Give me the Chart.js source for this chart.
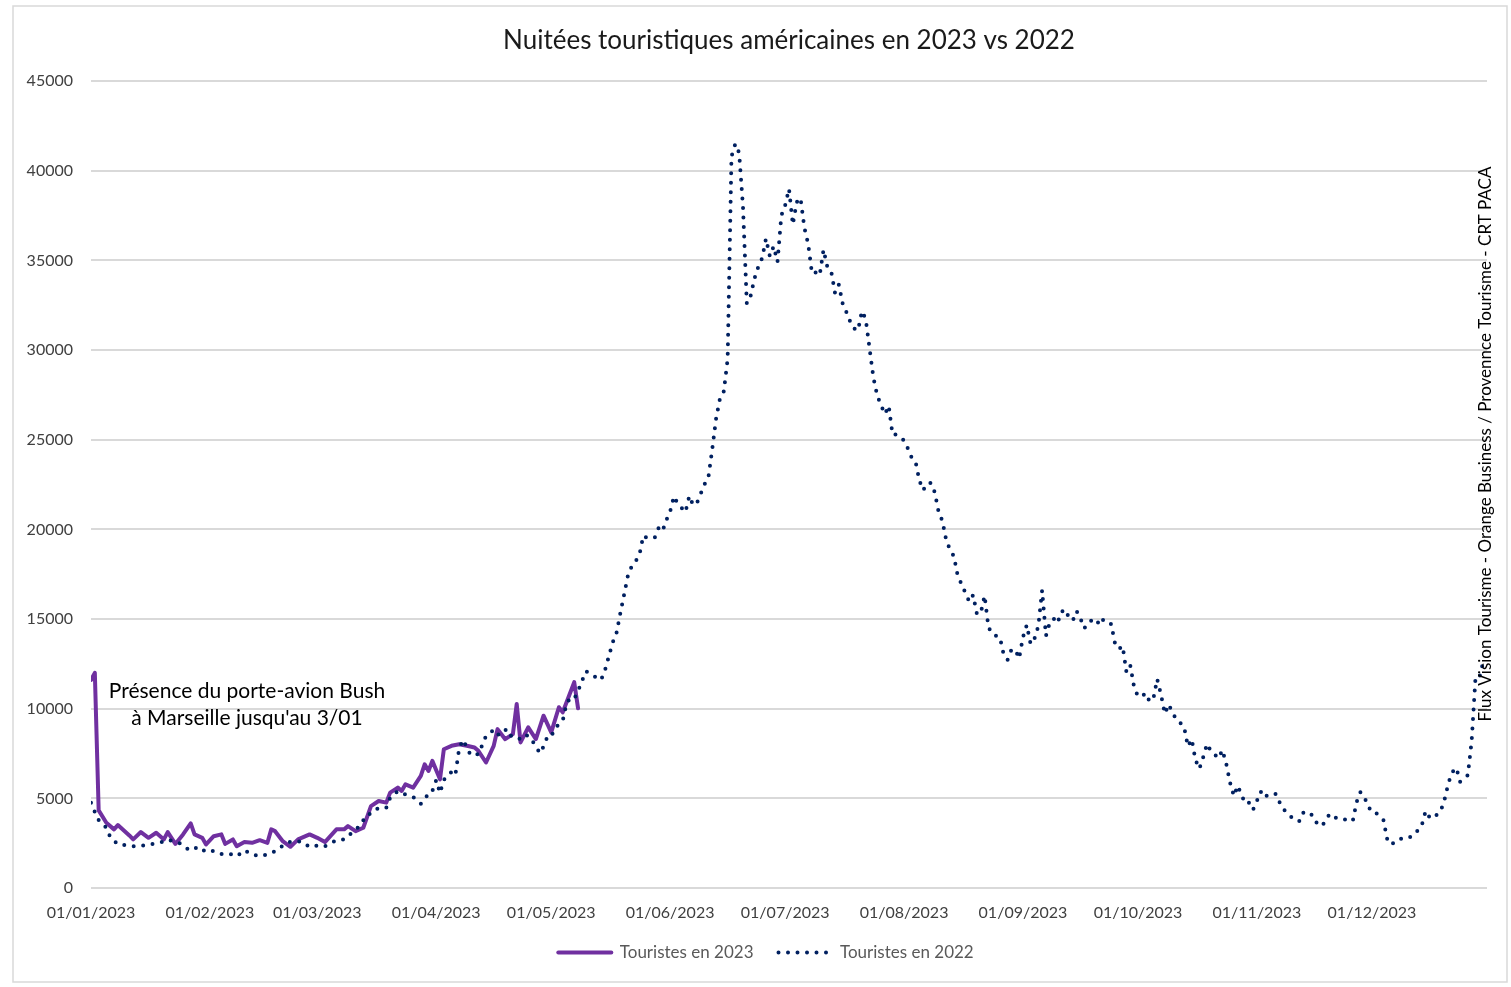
<!DOCTYPE html>
<html lang="fr">
<head>
<meta charset="utf-8">
<title>Nuitées touristiques américaines en 2023 vs 2022</title>
<script src="https://cdn.jsdelivr.net/npm/chart.js@4.4.1/dist/chart.umd.min.js"></script>
<style>
  html, body { margin: 0; padding: 0; background: #fff; }
  canvas { display: block; }
</style>
</head>
<body>
<canvas id="graphique" width="1511" height="987"></canvas>
<script>
// jours comptés depuis le 01/01 (0 = 1er janvier)
const jours2022 = [0,1,2,4,5,7,9,11,14,16,18,20,23,25,26,28,30,32,34,36,38,40,42,44,47,49,51,53,55,57,60,61,64,66,68,70,72,73,75,77,78,80,82,84,86,87,88,89,90,91,92,94,95,96,97,99,101,102,103,105,106,108,109,110,112,113,114,116,117,118,119,120,121,123,124,125,126,127,128,129,130,132,133,134,135,136,137,138,139,140,141,142,143,144,145,147,148,149,150,151,152,153,155,156,157,158,159,160,161,162,163,164,165,166,167,168,169,170,171,172,173,174,175,176,177,178,179,180,181,182,183,184,185,186,187,188,189,190,191,192,193,194,195,196,197,198,199,200,201,202,203,204,205,206,207,208,209,210,212,213,214,215,216,217,218,219,220,221,222,223,224,225,226,227,228,229,230,231,232,233,234,235,237,238,239,240,241,242,243,244,245,246,247,248,249,250,251,252,253,254,255,256,257,258,259,260,262,263,264,266,267,268,269,270,271,272,273,274,275,276,277,278,279,280,281,282,283,285,286,287,288,289,290,291,292,294,295,296,297,298,299,300,301,302,303,304,305,306,307,309,310,311,313,315,316,318,319,321,322,323,325,327,329,330,331,332,333,334,335,337,338,339,341,343,345,347,348,349,350,352,353,354,355,356,357,359,360,361,362,363];
const touristes2022 = [4760,4240,3790,3360,2850,2430,2390,2330,2370,2460,2520,2700,2520,2200,2090,2300,2000,2070,1890,1920,1770,2110,1870,1770,1920,2200,2520,2630,2580,2280,2400,2330,2670,2710,3080,3450,4110,4140,4480,4480,5040,5410,5220,5080,4700,4890,5320,5410,6010,5300,6030,6480,6290,7800,8270,7410,7460,7970,8490,8810,8530,8860,8450,8530,8300,8530,8490,7930,7520,7890,8450,8450,8920,9330,10300,10580,10550,11000,11530,12090,11980,11700,11600,12130,12900,13680,14200,15300,16360,17430,17950,18230,18570,19650,19520,19550,20080,19890,20510,21000,21850,21440,20970,21870,21350,21480,22000,22520,22930,24500,26200,27300,27700,29500,40800,41500,41000,38000,32600,33040,34000,34660,35140,36220,35240,35790,34920,37500,38080,39000,37000,38250,38490,36840,35920,34270,34340,34170,35600,34640,34400,33190,33650,32590,32110,31570,31200,31100,32170,31740,30100,28480,27470,26920,26430,26900,25280,25290,24960,24510,23990,23780,22720,22180,22560,22590,22070,20990,20470,19390,18870,18500,17400,16950,16450,15970,16340,15280,15330,16300,14550,14160,13980,13000,12730,13290,13290,12800,13980,14670,13600,13900,14600,16600,14060,14810,15020,14760,15400,15540,15070,14910,15440,15020,14480,14830,15020,14650,14980,14720,13650,13330,13500,12020,12400,11180,10690,10690,10870,10410,10540,11650,10780,9720,10240,9780,9400,9010,7900,8300,7130,6650,7300,8040,7650,7240,7700,6940,5880,5130,5710,5190,4700,4760,4360,4850,5370,5040,5240,5240,4740,4380,3950,3710,4200,4200,3730,3450,3820,4140,3860,3820,3730,4790,5350,5090,4570,4230,4200,3790,2700,2420,2740,2740,2950,3500,4290,3950,3880,4330,5000,5900,6470,6700,5930,6290,8200,11720,11720,12600];

const jours2023 = [0,1,2,4,6,7,10,11,13,15,17,19,20,22,24,26,27,29,30,32,34,35,37,38,40,42,44,46,47,48,50,52,54,57,59,61,64,66,67,69,71,73,75,77,78,80,81,82,84,86,87,88,89,91,92,94,96,98,100,101,103,105,106,108,110,111,112,114,116,118,120,122,123,126,127];
const touristes2023 = [11600,12000,4330,3640,3270,3510,2930,2710,3120,2800,3080,2710,3120,2460,2990,3600,2990,2800,2430,2890,2990,2460,2710,2330,2560,2520,2670,2520,3270,3170,2610,2300,2710,2990,2800,2560,3270,3270,3450,3170,3360,4570,4850,4760,5320,5600,5410,5780,5600,6250,6900,6530,7090,6060,7740,7930,8020,7930,7840,7650,7000,7930,8860,8300,8580,10260,8120,8960,8300,9610,8680,10080,9800,11480,10020];

const debutsDeMois = [0,31,59,90,120,151,181,212,243,273,304,334];
const etiquettesMois = ['01/01/2023','01/02/2023','01/03/2023','01/04/2023','01/05/2023','01/06/2023','01/07/2023','01/08/2023','01/09/2023','01/10/2023','01/11/2023','01/12/2023'];

const police = 'Lato';

const cadreEtNotes = {
    id: 'cadreEtNotes',
    afterLayout(chart) {
        // la légende d'origine est un peu décalée vers la droite
        chart.legend.left += 16;
        chart.legend.right += 16;
    },
    beforeDraw(chart) {
        const c = chart.ctx;
        c.save();
        c.fillStyle = '#fff';
        c.fillRect(0, 0, chart.width, chart.height);
        c.strokeStyle = '#d9d9d9';
        c.lineWidth = 1.5;
        c.strokeRect(13, 6, 1494, 976);
        c.restore();
    },
    afterDraw(chart) {
        const c = chart.ctx;
        c.save();
        c.fillStyle = '#000';
        c.font = '21px ' + police;
        c.textAlign = 'center';
        c.textBaseline = 'middle';
        c.fillText('Présence du porte-avion Bush', 247, 691);
        c.fillText("à Marseille jusqu'au 3/01", 247, 718);

        c.translate(1486, 444);
        c.rotate(-Math.PI / 2);
        c.font = '17px ' + police;
        c.fillText('Flux Vision Tourisme - Orange Business / Provennce Tourisme - CRT PACA', 0, 0);
        c.restore();
    }
};

// légende : reprendre le pointillé et l'épaisseur de chaque série
function etiquettesLegende(chart) {
    const items = Chart.defaults.plugins.legend.labels.generateLabels(chart);
    items.forEach(item => {
        const ds = chart.data.datasets[item.datasetIndex];
        item.lineDash = ds.borderDash || [];
        item.lineCap = ds.borderCapStyle || 'butt';
        item.lineWidth = ds.borderWidth;
        item.strokeStyle = ds.borderColor;
    });
    return items;
}

const ctx = document.getElementById('graphique').getContext('2d');
const graphique = new Chart(ctx, {
    type: 'line',
    data: {
        datasets: [
            {
                label: 'Touristes en 2023',
                data: jours2023.map((j, i) => ({ x: j, y: touristes2023[i] })),
                borderColor: '#7030a0',
                backgroundColor: '#7030a0',
                borderWidth: 4,
                borderCapStyle: 'round',
                borderJoinStyle: 'round',
                pointRadius: 0,
                tension: 0,
                order: 1
            },
            {
                label: 'Touristes en 2022',
                data: jours2022.map((j, i) => ({ x: j, y: touristes2022[i] })),
                borderColor: '#002060',
                backgroundColor: '#002060',
                borderWidth: 4,
                borderDash: [0, 9.5],
                borderCapStyle: 'round',
                borderJoinStyle: 'round',
                pointRadius: 0,
                tension: 0,
                order: 0
            }
        ]
    },
    options: {
        responsive: false,
        animation: false,
        layout: { padding: { left: 13, right: 24, top: 6, bottom: 16 } },
        plugins: {
            title: {
                display: true,
                fullSize: false,
                text: 'Nuitées touristiques américaines en 2023 vs 2022',
                color: '#1a1a1a',
                font: { family: police, size: 26, weight: 'normal' },
                padding: { top: 19, bottom: 25 }
            },
            legend: {
                position: 'bottom',
                labels: {
                    usePointStyle: true,
                    pointStyle: 'line',
                    pointStyleWidth: 53,
                    padding: 25,
                    color: '#595959',
                    font: { family: police, size: 17 },
                    generateLabels: etiquettesLegende,
                    sort: (a, b) => a.datasetIndex - b.datasetIndex
                }
            },
            tooltip: { enabled: false }
        },
        scales: {
            x: {
                type: 'linear',
                min: 0,
                max: 364,
                grid: { display: false, drawTicks: false },
                border: { display: false },
                afterBuildTicks: (axe) => { axe.ticks = debutsDeMois.map(v => ({ value: v })); },
                afterFit: (axe) => { axe.height = 31; },
                ticks: {
                    autoSkip: false,
                    maxRotation: 0,
                    padding: 15,
                    color: '#404040',
                    font: { family: police, size: 16 },
                    callback: (v) => etiquettesMois[debutsDeMois.indexOf(v)]
                }
            },
            y: {
                min: 0,
                max: 45000,
                grid: { color: '#d9d9d9', lineWidth: 2, drawTicks: false },
                border: { display: false },
                afterFit: (axe) => { axe.width = 78; },
                ticks: {
                    stepSize: 5000,
                    padding: 18,
                    color: '#404040',
                    font: { family: police, size: 16 },
                    callback: (v) => String(v)
                }
            }
        }
    },
    plugins: [cadreEtNotes]
});
</script>
</body>
</html>
